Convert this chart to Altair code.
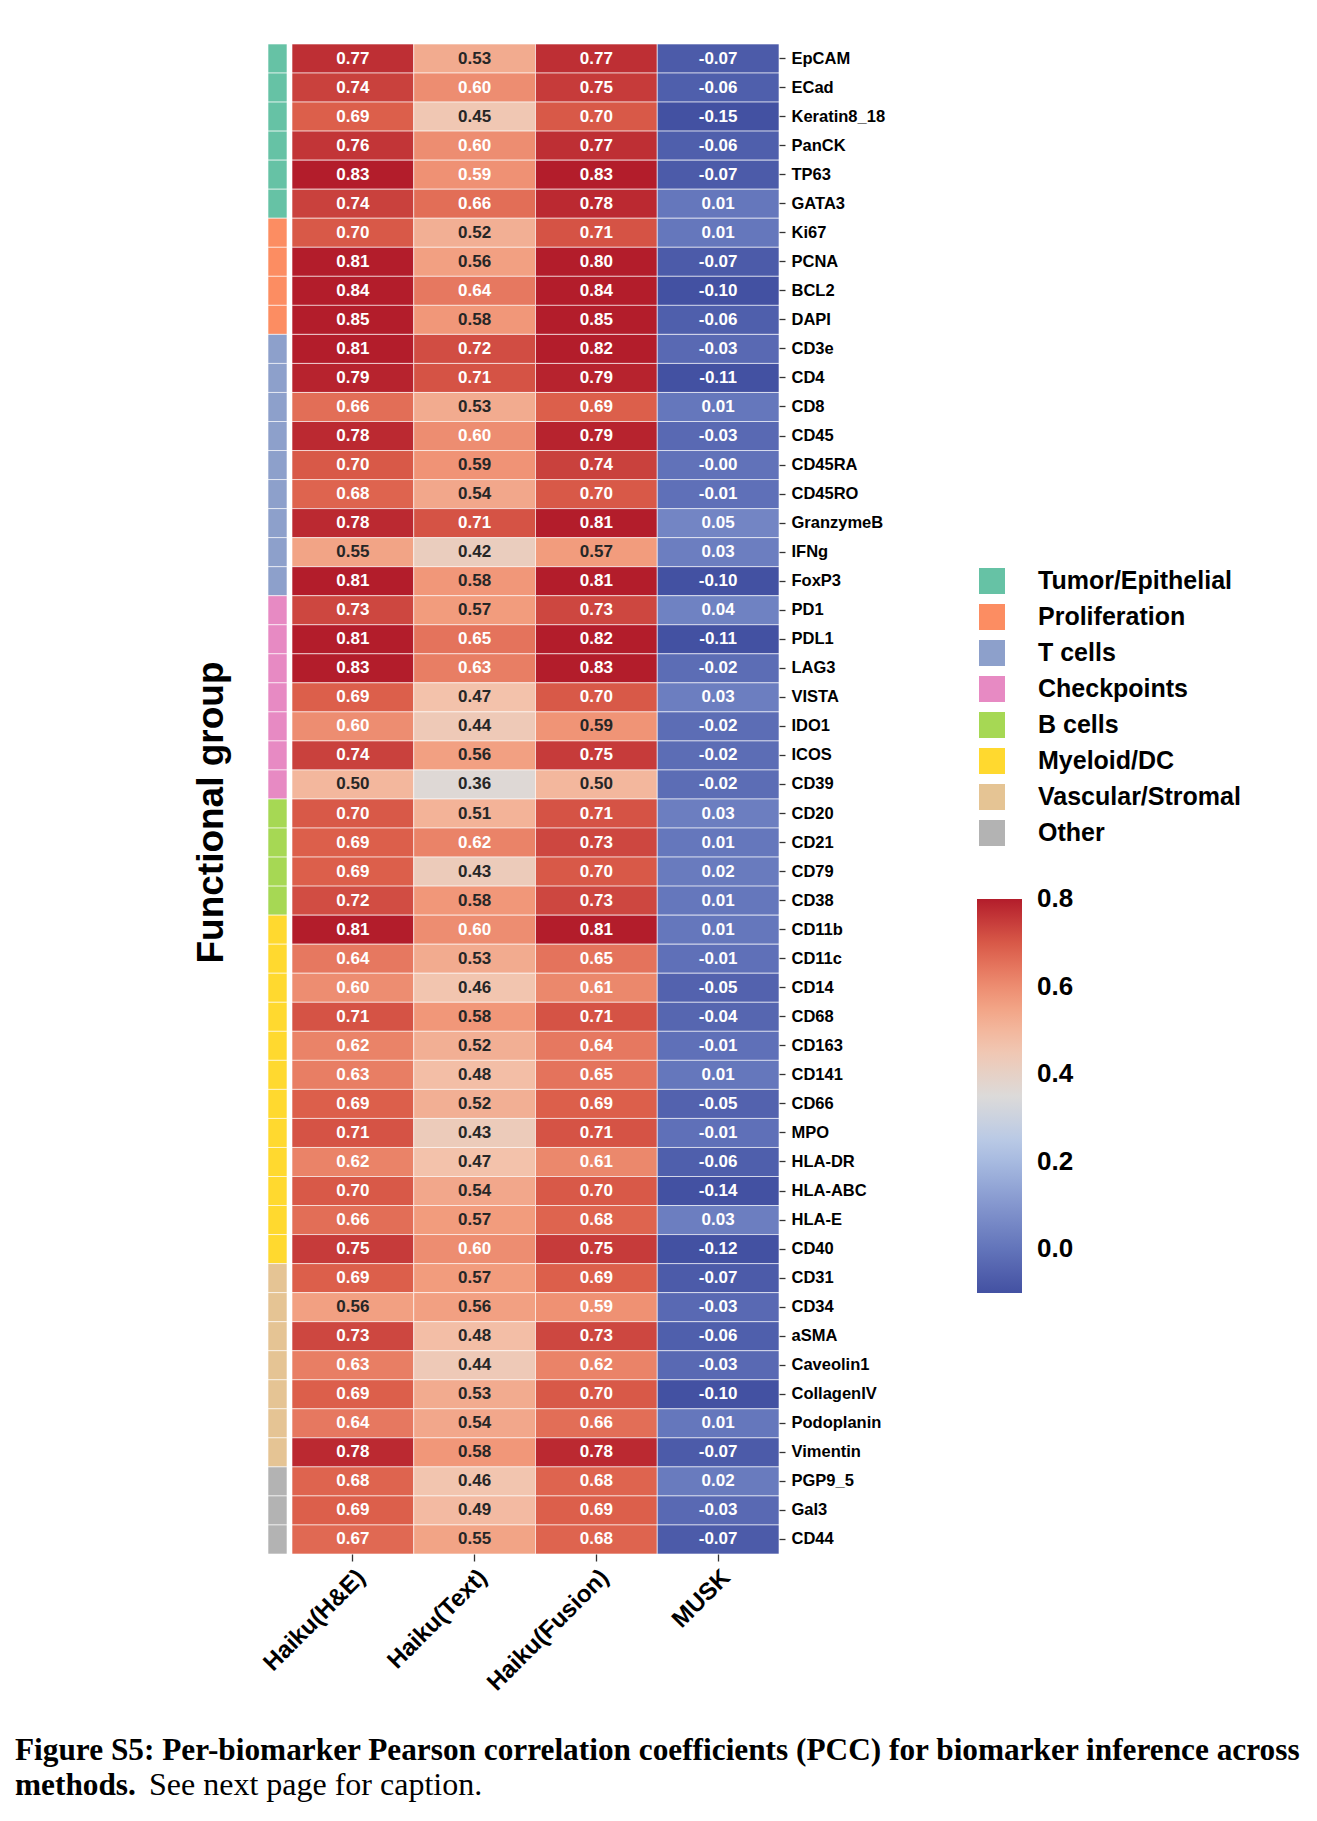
import altair as alt
import pandas as pd

markers = ["EpCAM", "ECad", "Keratin8_18", "PanCK", "TP63", "GATA3",
           "Ki67", "PCNA", "BCL2", "DAPI",
           "CD3e", "CD4", "CD8", "CD45", "CD45RA", "CD45RO", "GranzymeB", "IFNg", "FoxP3",
           "PD1", "PDL1", "LAG3", "VISTA", "IDO1", "ICOS", "CD39",
           "CD20", "CD21", "CD79", "CD38",
           "CD11b", "CD11c", "CD14", "CD68", "CD163", "CD141", "CD66", "MPO", "HLA-DR", "HLA-ABC", "HLA-E", "CD40",
           "CD31", "CD34", "aSMA", "Caveolin1", "CollagenIV", "Podoplanin", "Vimentin",
           "PGP9_5", "Gal3", "CD44"]

marker_group = (["Tumor/Epithelial"] * 6 + ["Proliferation"] * 4 + ["T cells"] * 9 +
                ["Checkpoints"] * 7 + ["B cells"] * 4 + ["Myeloid/DC"] * 12 +
                ["Vascular/Stromal"] * 7 + ["Other"] * 3)

groups = ["Tumor/Epithelial", "Proliferation", "T cells", "Checkpoints",
          "B cells", "Myeloid/DC", "Vascular/Stromal", "Other"]
group_colors = ["#66c2a5", "#fc8d62", "#8da0cb", "#e78ac3",
                "#a6d854", "#ffd92f", "#e5c494", "#b3b3b3"]

methods = ["Haiku(H&E)", "Haiku(Text)", "Haiku(Fusion)", "MUSK"]

pcc_he = [0.77, 0.74, 0.69, 0.76, 0.83, 0.74,
          0.70, 0.81, 0.84, 0.85,
          0.81, 0.79, 0.66, 0.78, 0.70, 0.68, 0.78, 0.55, 0.81,
          0.73, 0.81, 0.83, 0.69, 0.60, 0.74, 0.50,
          0.70, 0.69, 0.69, 0.72,
          0.81, 0.64, 0.60, 0.71, 0.62, 0.63, 0.69, 0.71, 0.62, 0.70, 0.66, 0.75,
          0.69, 0.56, 0.73, 0.63, 0.69, 0.64, 0.78,
          0.68, 0.69, 0.67]
pcc_text = [0.53, 0.60, 0.45, 0.60, 0.592, 0.66,
            0.52, 0.56, 0.64, 0.58,
            0.72, 0.71, 0.53, 0.60, 0.588, 0.54, 0.71, 0.42, 0.58,
            0.57, 0.65, 0.63, 0.47, 0.44, 0.56, 0.36,
            0.51, 0.62, 0.43, 0.58,
            0.60, 0.53, 0.46, 0.58, 0.52, 0.48, 0.52, 0.43, 0.47, 0.54, 0.57, 0.60,
            0.57, 0.56, 0.48, 0.44, 0.53, 0.54, 0.58,
            0.46, 0.49, 0.55]
pcc_fusion = [0.77, 0.75, 0.70, 0.77, 0.83, 0.78,
              0.71, 0.80, 0.84, 0.85,
              0.82, 0.79, 0.69, 0.79, 0.74, 0.70, 0.81, 0.57, 0.81,
              0.73, 0.82, 0.83, 0.70, 0.587, 0.75, 0.50,
              0.71, 0.73, 0.70, 0.73,
              0.81, 0.65, 0.61, 0.71, 0.64, 0.65, 0.69, 0.71, 0.61, 0.70, 0.68, 0.75,
              0.69, 0.593, 0.73, 0.62, 0.70, 0.66, 0.78,
              0.68, 0.69, 0.68]
pcc_musk = [-0.07, -0.06, -0.15, -0.06, -0.07, 0.01,
            0.01, -0.07, -0.10, -0.06,
            -0.03, -0.11, 0.01, -0.03, -0.004, -0.01, 0.05, 0.03, -0.10,
            0.04, -0.11, -0.02, 0.03, -0.02, -0.02, -0.02,
            0.03, 0.01, 0.02, 0.01,
            0.01, -0.01, -0.05, -0.04, -0.01, 0.01, -0.05, -0.01, -0.06, -0.14, 0.03, -0.12,
            -0.07, -0.03, -0.06, -0.03, -0.10, 0.01, -0.07,
            0.02, -0.03, -0.07]

cbar_ticks = [0.0, 0.2, 0.4, 0.6, 0.8]
cmap_domain = [-0.1, 0.0125, 0.125, 0.2375, 0.35, 0.4625, 0.575, 0.6875, 0.8005]
cmap_colors = ["#4351a2", "#6678bd", "#8c9fd3", "#b5c7e6", "#dcdad9",
               "#f3c5ae", "#f29a7b", "#dd604c", "#b31d2b"]

caption_line1 = "Figure S5: Per-biomarker Pearson correlation coefficients (PCC) for biomarker inference across"
caption_line2_bold = "methods."
caption_line2_reg = "See next page for caption."

FONT = "Liberation Sans"

rows = []
for meth, vals in zip(methods, [pcc_he, pcc_text, pcc_fusion, pcc_musk]):
    for m, v in zip(markers, vals):
        rows.append({"method": meth, "marker": m, "pcc": v, "label": f"{v:.2f}"})
df = pd.DataFrame(rows)
gdf = pd.DataFrame({"marker": markers, "group": marker_group})

H = 1510

strip = alt.Chart(gdf).mark_rect(stroke="white", strokeWidth=0.6).encode(
    y=alt.Y("marker:N", sort=markers,
            axis=alt.Axis(labels=False, ticks=False, domain=False,
                          title="Functional group", titleFont=FONT,
                          titleFontSize=37, titleFontWeight="bold",
                          titleColor="black", titlePadding=38, titleY=768)),
    color=alt.Color("group:N", scale=alt.Scale(domain=groups, range=group_colors),
                    legend=alt.Legend(title=None, orient="none", legendX=711, legendY=524,
                                      symbolType="square", symbolSize=676,
                                      symbolStrokeWidth=0, symbolOpacity=1,
                                      labelFont=FONT, labelFontSize=25,
                                      labelFontWeight="bold", labelColor="black",
                                      labelLimit=400, rowPadding=10, labelOffset=33)),
).properties(width=19, height=H)

base = alt.Chart(df).encode(
    x=alt.X("method:N", sort=methods,
            axis=alt.Axis(title=None, labelAngle=-45, labelAlign="right",
                          labelBaseline="top", labelFont=FONT, labelFontSize=24,
                          labelFontWeight="bold", labelColor="black",
                          tickSize=7, tickColor="#333", tickWidth=1.3,
                          domain=False, labelPadding=4, labelLimit=400)),
    y=alt.Y("marker:N", sort=markers,
            axis=alt.Axis(orient="right", title=None, labelFont=FONT,
                          labelFontSize=16.5, labelFontWeight="bold",
                          labelColor="black", tickSize=6, tickColor="#333",
                          tickWidth=1.3, domain=False, labelPadding=6,
                          labelLimit=400)),
)

rect = base.mark_rect(stroke="white", strokeWidth=0.6).encode(
    color=alt.Color("pcc:Q",
                    scale=alt.Scale(domain=cmap_domain, range=cmap_colors,
                                    interpolate="rgb", clamp=True),
                    legend=alt.Legend(title=None, orient="none", legendX=685, legendY=855,
                                      direction="vertical", gradientLength=394,
                                      gradientThickness=45, gradientStrokeWidth=0,
                                      values=cbar_ticks, format=".1f",
                                      labelFont=FONT, labelFontSize=26,
                                      labelFontWeight="bold", labelColor="black",
                                      labelOffset=15, labelBaseline="middle")),
)

text = base.mark_text(font=FONT, fontSize=17, fontWeight="bold").encode(
    text="label:N",
    color=alt.condition("datum.pcc >= 0.59 || datum.pcc < 0.2",
                        alt.value("white"), alt.value("#262626")),
)

heat = alt.layer(rect, text).properties(width=487, height=H)

top = alt.hconcat(strip, heat, spacing=5, bounds="flush").resolve_scale(color="independent")

cap_font = "Liberation Serif"
c1 = alt.Chart(pd.DataFrame({"t": [caption_line1]})).mark_text(
    align="left", baseline="alphabetic", font=cap_font, fontSize=31.3,
    fontWeight="bold", color="black").encode(
    text="t:N", x=alt.value(-253), y=alt.value(54))
c2 = alt.Chart(pd.DataFrame({"t": [caption_line2_bold]})).mark_text(
    align="left", baseline="alphabetic", font=cap_font, fontSize=31.3,
    fontWeight="bold", color="black").encode(
    text="t:N", x=alt.value(-253), y=alt.value(89))
c3 = alt.Chart(pd.DataFrame({"t": [caption_line2_reg]})).mark_text(
    align="left", baseline="alphabetic", font=cap_font, fontSize=32,
    fontWeight="normal", color="black").encode(
    text="t:N", x=alt.value(-119), y=alt.value(89))
caption = alt.layer(c1, c2, c3).properties(width=508, height=100)

chart = alt.vconcat(top, caption, spacing=1662, bounds="flush").properties(
    autosize=alt.AutoSizeParams(type="none"),
    padding={"left": 268, "top": 44, "right": 1049, "bottom": 1777},
    background="white",
).configure_view(strokeWidth=0, stroke="transparent")

chart.save("out.html", embed_options={"renderer": "svg", "actions": False})
